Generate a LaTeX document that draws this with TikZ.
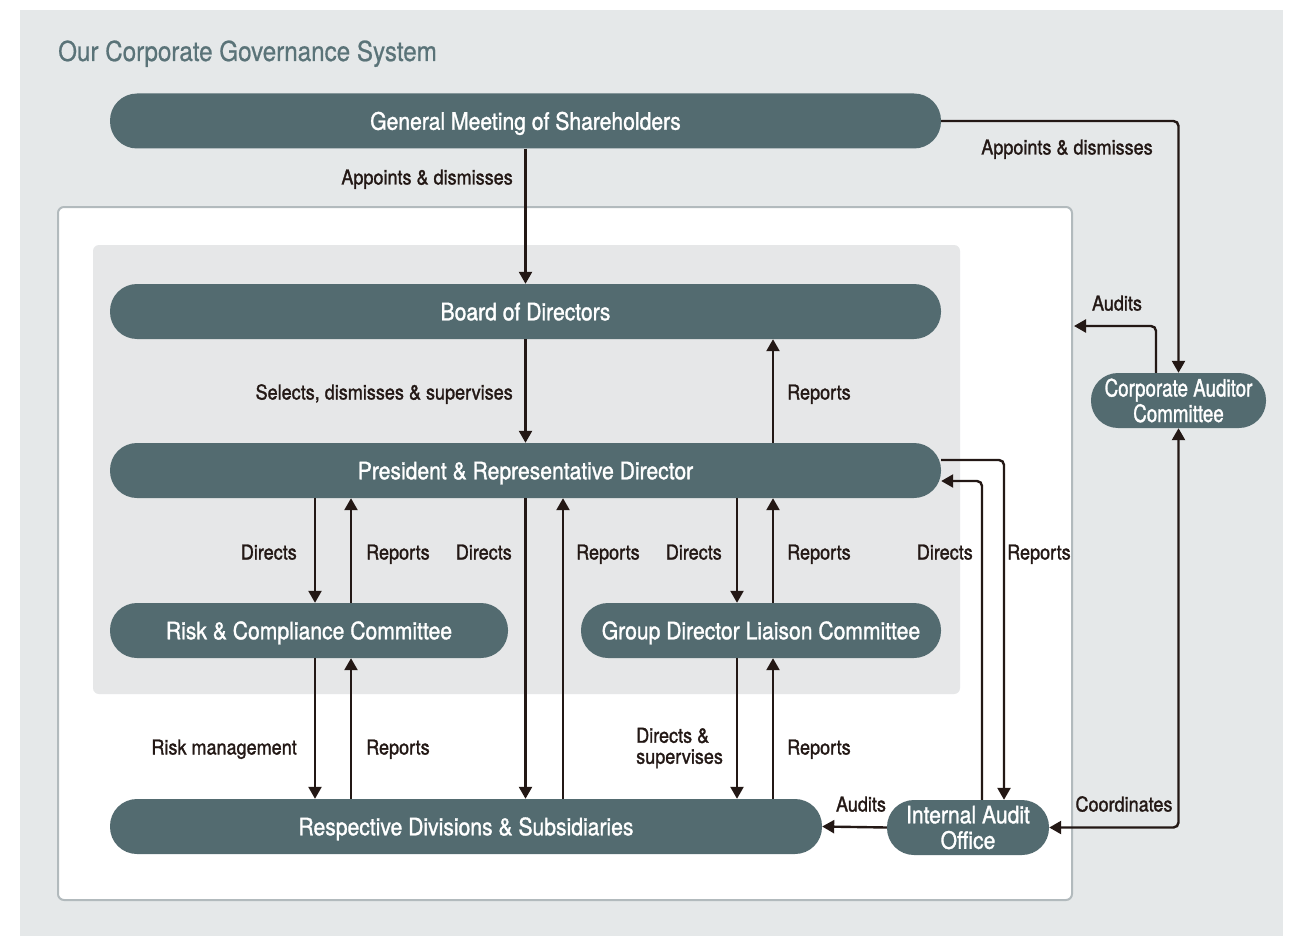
\documentclass[tikz,border=0pt]{standalone}
\usepackage{fontspec}
\setmainfont[FakeStretch=0.88,FakeBold=1.3]{TeX Gyre Heros}
\newfontfamily\ttlfont[FakeStretch=0.88,FakeBold=0.7]{TeX Gyre Heros}
\usetikzlibrary{arrows.meta,calc}
\definecolor{pillc}{HTML}{536B70}
\definecolor{bgc}{HTML}{E5E8E9}
\definecolor{bgin}{HTML}{E6E7E8}
\definecolor{boxc}{HTML}{B2BABD}
\definecolor{titlec}{HTML}{5A7378}
\definecolor{ink}{HTML}{231815}
\begin{document}
\begin{tikzpicture}[x=1pt,y=-1pt,
  pill/.style={fill=pillc,rounded corners=27pt,minimum height=55pt,inner sep=0pt,text=white,font=\fontsize{24}{25}\selectfont,align=center},
  onel/.style={text height=17.5pt,text depth=0pt},
  twol/.style={font=\fontsize{24}{27}\selectfont},
  lbl/.style={inner sep=0pt,text=ink,font=\fontsize{20.5}{21}\selectfont},
  arr/.style={draw=ink,line width=2.4pt,-{Triangle[length=12pt,width=13pt]},rounded corners=5pt},
  tip/.tip={Triangle[length=12pt,width=13pt]}]
\useasboundingbox (0,0) rectangle (1300,936);
\fill[bgc] (20,10) rectangle (1283,936);
\draw[boxc,line width=2pt,fill=white,rounded corners=6pt] (58,207) rectangle (1072,900);
\fill[bgin,rounded corners=6pt] (93,245) rectangle (960,694);
\node[anchor=base west,inner sep=0pt,text=titlec,font=\ttlfont\fontsize{27.5}{29}\selectfont] (title) at (58,61) {Our Corporate Governance System};
% nodes
\node[pill,onel,minimum width=831pt] (gms) at (525.5,121) {General Meeting of Shareholders};
\node[pill,onel,minimum width=831pt] (bod) at (525.5,311.5) {Board of Directors};
\node[pill,onel,minimum width=831pt] (pres) at (525.5,470.5) {President \& Representative Director};
\node[pill,onel,minimum width=398pt] (risk) at (309,630.5) {Risk \& Compliance Committee};
\node[pill,onel,minimum width=360pt] (gdl) at (761,630.5) {Group Director Liaison Committee};
\node[pill,onel,minimum width=712pt] (div) at (466,826.5) {Respective Divisions \& Subsidiaries};
\node[pill,twol,minimum width=162pt] (iao) at (968,827.5) {\raisebox{-1.5pt}{Internal Audit}\\Office};
\node[pill,twol,minimum width=175pt] (cac) at (1178.5,400.5) {\raisebox{-1.5pt}{\scalebox{0.89}[1]{Corporate Auditor}}\\\scalebox{0.89}[1]{Committee}};
% column coordinates
\coordinate (c315) at (315,0);
\coordinate (c351) at (351,0);
\coordinate (c563) at (563,0);
\coordinate (c737) at (737,0);
\coordinate (c773) at (773,0);
\coordinate (c982) at (982,0);
\coordinate (c1004) at (1004,0);
\coordinate (c1156) at (1156,0);
\coordinate (auditend) at (1074,326);
% connectors
\draw[arr] (gms.south) -- (bod.north);
\draw[arr] (gms.east) -| (cac.north);
\draw[arr] (c1156 |- cac.north) |- (auditend);
\draw[arr] (bod.south) -- (pres.north);
\draw[arr] (pres.north -| c773) -- (bod.south -| c773);
\draw[arr] (pres.south -| c315) -- (risk.north -| c315);
\draw[arr] (risk.north -| c351) -- (pres.south -| c351);
\draw[arr] (pres.south) -- (div.north -| pres.south);
\draw[arr] (div.north -| c563) -- (pres.south -| c563);
\draw[arr] (pres.south -| c737) -- (gdl.north -| c737);
\draw[arr] (gdl.north -| c773) -- (pres.south -| c773);
\draw[arr] (risk.south -| c315) -- (div.north -| c315);
\draw[arr] (div.north -| c351) -- (risk.south -| c351);
\draw[arr] (gdl.south -| c737) -- (div.north -| c737);
\draw[arr] (div.north -| c773) -- (gdl.south -| c773);
\draw[arr] ([yshift=10.5pt]pres.east) -| (c1004 |- iao.north);
\draw[arr] (c982 |- iao.north) |- ([yshift=-10.5pt]pres.east);
\draw[arr] (iao.west) -- (div.east);
\draw[arr,tip-tip] (iao.east) -| (cac.south);
% labels
\node[lbl,anchor=base east] (l1) at (513,184.5) {Appoints \& dismisses};
\node[lbl,anchor=base] (l2) at (1067,154.5) {Appoints \& dismisses};
\node[lbl,anchor=base] (l3) at (1117,310.5) {Audits};
\node[lbl,anchor=base east] (l4) at (513,399.5) {Selects, dismisses \& supervises};
\node[lbl,anchor=base west] (l5) at (787,399.5) {Reports};
\node[lbl,anchor=base east] (l6) at (297,559.5) {Directs};
\node[lbl,anchor=base west] (l7) at (366,559.5) {Reports};
\node[lbl,anchor=base east] (l8) at (512,559.5) {Directs};
\node[lbl,anchor=base west] (l9) at (576,559.5) {Reports};
\node[lbl,anchor=base east] (l10) at (722,559.5) {Directs};
\node[lbl,anchor=base west] (l11) at (787,559.5) {Reports};
\node[lbl,anchor=base east] (l12) at (973,559.5) {Directs};
\node[lbl,anchor=base west] (l13) at (1007,559.5) {Reports};
\node[lbl,anchor=base east] (l14) at (297,754.5) {Risk management};
\node[lbl,anchor=base west] (l15) at (366,754.5) {Reports};
\node[lbl,anchor=west,align=left,font=\fontsize{20.5}{21}\selectfont] (l16) at (636,748) {Directs \&\\supervises};
\node[lbl,anchor=base west] (l17) at (787,754.5) {Reports};
\node[lbl,anchor=base] (l18) at (861,811.5) {Audits};
\node[lbl,anchor=base] (l19) at (1124,811.5) {Coordinates};
\end{tikzpicture}
\end{document}
